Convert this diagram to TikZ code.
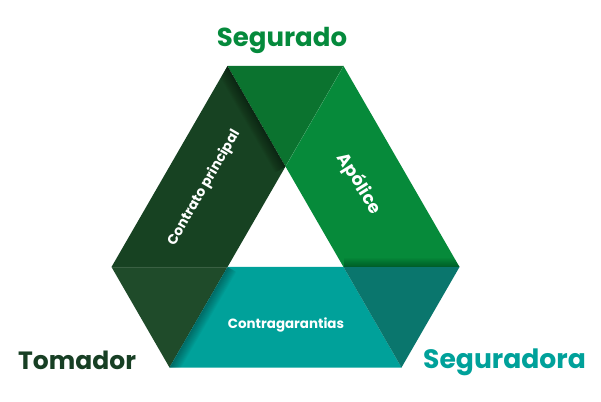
\documentclass[tikz,border=0pt]{standalone}
\usepackage{fontspec}
\setmainfont{Poppins}
\usetikzlibrary{calc}
\definecolor{topgreen}{HTML}{0B732F}
\definecolor{leftgreen}{HTML}{174222}
\definecolor{rightgreen}{HTML}{068A3A}
\definecolor{blgreen}{HTML}{1F4B2A}
\definecolor{teal}{HTML}{00A19A}
\definecolor{brteal}{HTML}{0A766D}
\definecolor{segcol}{HTML}{058A3C}
\definecolor{tomcol}{HTML}{173F24}
\definecolor{segdcol}{HTML}{00A19A}
\tikzset{
  biglabel/.style={font=\fontsize{26}{27}\selectfont\bfseries, inner sep=0pt, anchor=base},
  bandlabel/.style={text=white, inner sep=0pt},
  shadowstrip/.style={fill=black, opacity=0.035}
}
\begin{document}
\begin{tikzpicture}[x=1pt,y=1pt]
\useasboundingbox (0,0) rectangle (601,401);
% key points
\coordinate (A) at (227.5,335);
\coordinate (B) at (343.5,335);
\coordinate (T) at (285.5,234.5);
\coordinate (L) at (111.5,134);
\coordinate (P) at (227.5,134);
\coordinate (Q) at (343.5,134);
\coordinate (R) at (459.5,134);
\coordinate (C) at (169.5,33.5);
\coordinate (D) at (401.5,33.5);
% faces
\fill[topgreen] (A) -- (B) -- (T) -- cycle;
\fill[leftgreen] (A) -- (T) -- (P) -- (L) -- cycle;
\fill[rightgreen] (B) -- (R) -- (Q) -- (T) -- cycle;
\fill[blgreen] (L) -- (P) -- (C) -- cycle;
\fill[teal] (P) -- (Q) -- (D) -- (C) -- cycle;
\fill[brteal] (Q) -- (R) -- (D) -- cycle;
% shadows
\begin{scope}
  \clip (A) -- (T) -- (P) -- (L) -- cycle;
  \foreach \w in {1,2,...,12}
    \fill[shadowstrip] (A) -- (T) -- ($(T)+(-0.866*\w,-0.5*\w)$) -- ($(A)+(-0.866*\w,-0.5*\w)$) -- cycle;
\end{scope}
\begin{scope}
  \clip (B) -- (R) -- (Q) -- (T) -- cycle;
  \foreach \w in {1,2,...,9}
    \fill[shadowstrip] (Q) -- (R) -- ($(R)+(0,\w)$) -- ($(Q)+(0,\w)$) -- cycle;
\end{scope}
\begin{scope}
  \clip (P) -- (Q) -- (D) -- (C) -- cycle;
  \foreach \w in {1,2,...,10}
    \fill[shadowstrip] (P) -- (C) -- ($(C)+(0.866*\w,-0.5*\w)$) -- ($(P)+(0.866*\w,-0.5*\w)$) -- cycle;
\end{scope}
% thin seams
\draw[white, opacity=0.12, line width=0.5pt] (L) -- (P);
\draw[white, opacity=0.12, line width=0.5pt] (B) -- (T);
% band labels
\node[bandlabel, rotate=60, font=\fontsize{13.8}{14}\selectfont\bfseries] (contrato) at (204,213) {Contrato principal};
\node[bandlabel, rotate=-58, font=\fontsize{17.5}{18}\selectfont\bfseries] (apolice) at (359,217) {Apólice};
\node[bandlabel, font=\fontsize{13.4}{14}\selectfont\bfseries] (contra) at (286,76) {Contragarantias};
% corner labels
\node[biglabel, text=segcol] (segurado) at (282,354) {Segurado};
\node[biglabel, text=tomcol, anchor=base west, font=\fontsize{25}{26}\selectfont\bfseries] (tomador) at (18,31.7) {Tomador};
\node[biglabel, text=segdcol, anchor=base west, font=\fontsize{26.6}{27}\selectfont\bfseries] (seguradora) at (423,32.7) {Seguradora};
\end{tikzpicture}
\end{document}
